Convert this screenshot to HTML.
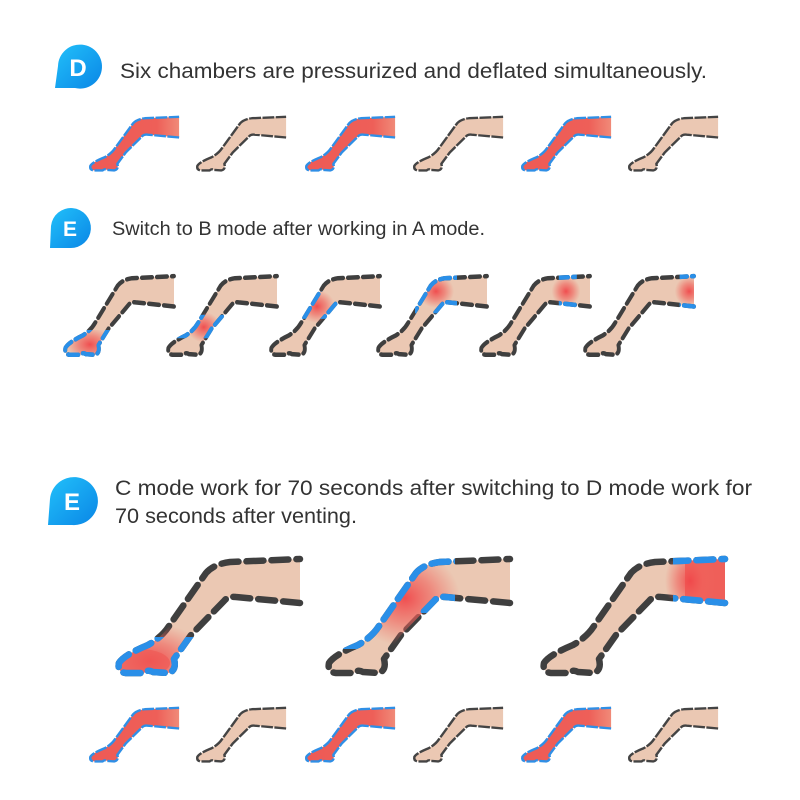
<!DOCTYPE html>
<html><head><meta charset="utf-8"><style>
html,body{margin:0;padding:0;background:#fff;}
svg{display:block;font-family:"Liberation Sans",sans-serif;}
</style></head><body>
<svg width="800" height="800" viewBox="0 0 800 800" xmlns="http://www.w3.org/2000/svg">
<defs>
<linearGradient id="bg" x1="0" y1="0" x2="1" y2="1"><stop offset="0" stop-color="#22c1fa"/><stop offset="1" stop-color="#0a86e6"/></linearGradient>
<linearGradient id="redfull" x1="0" y1="0" x2="1" y2="0"><stop offset="0" stop-color="#ee5a55"/><stop offset="0.75" stop-color="#ee5f58"/><stop offset="1" stop-color="#f08a78"/></linearGradient>
<radialGradient id="rg"><stop offset="0" stop-color="#f0474a" stop-opacity="0.95"/><stop offset="0.5" stop-color="#f0605a" stop-opacity="0.6"/><stop offset="1" stop-color="#f06a60" stop-opacity="0"/></radialGradient>
<path id="body" d="M190,6 L120,9 Q104,11 96,20 L59,73 Q52,84 38,92 Q14,102 9,110 Q7,119 16,120 L34,120 Q38,116 43,119 L58,120 Q67,118 64,106 L81,82 L114,48 Q118,43 126,44 L190,50 Z"/>
<path id="line" d="M190,50 L126,44 Q118,43 114,48 L81,82 L64,106 Q67,118 58,120 L43,119 Q38,116 34,120 L16,120 Q7,119 9,110 Q14,102 38,92 Q52,84 59,73 L96,20 Q104,11 120,9 L190,6"/>
<clipPath id="cbody"><use href="#body"/></clipPath>
<clipPath id="zfoot"><rect x="-10" y="84" width="100" height="50"/></clipPath>
<clipPath id="zankle"><polygon points="-10,62 110,62 110,96 -10,96"/></clipPath>
<clipPath id="zcalf"><polygon points="-10,28 120,28 120,68 -10,68"/></clipPath>
<clipPath id="zknee"><polygon points="70,-10 140,-10 140,60 70,60"/></clipPath>
<clipPath id="zthigh1"><rect x="138" y="-10" width="30" height="80"/></clipPath>
<clipPath id="zthigh2"><rect x="166" y="-10" width="40" height="80"/></clipPath>
<clipPath id="zcalfknee"><polygon points="-10,-10 135,-10 135,60 90,60 60,96 -10,96"/></clipPath>
<clipPath id="zthigh"><rect x="138" y="-10" width="70" height="80"/></clipPath>
<g id="sRed"><use href="#body" fill="url(#redfull)"/><use href="#line" fill="none" stroke="#2f8fe6" stroke-width="5" stroke-dasharray="24 3" stroke-linejoin="round"/></g>
<g id="sBeige"><use href="#body" fill="#ebc8b3"/><use href="#line" fill="none" stroke="#444" stroke-width="5" stroke-dasharray="24 3" stroke-linejoin="round"/></g>
<g id="base"><use href="#body" fill="#ebc8b3"/><use href="#line" fill="none" stroke="#3f3f3f" stroke-width="6.5" stroke-linecap="round" stroke-dasharray="17 8" stroke-linejoin="round"/></g>
<g id="blueL"><use href="#line" fill="none" stroke="#2a8fe8" stroke-width="6.5" stroke-linecap="round" stroke-dasharray="17 8" stroke-linejoin="round"/></g>
</defs>

<path d="M55,88 L58,66 A22,22 0 1 1 75,88 Z" fill="url(#bg)"/>
<text x="78" y="76" font-size="24" font-weight="bold" fill="#fff" text-anchor="middle">D</text>
<text x="120" y="78" font-size="21" fill="#333" textLength="587" lengthAdjust="spacingAndGlyphs">Six chambers are pressurized and deflated simultaneously.</text>

<g transform="translate(86,114) scale(0.49,0.47)"><use href="#sRed"/></g>
<g transform="translate(193,114) scale(0.49,0.47)"><use href="#sBeige"/></g>
<g transform="translate(302,114) scale(0.49,0.47)"><use href="#sRed"/></g>
<g transform="translate(410,114) scale(0.49,0.47)"><use href="#sBeige"/></g>
<g transform="translate(518,114) scale(0.49,0.47)"><use href="#sRed"/></g>
<g transform="translate(625,114) scale(0.49,0.47)"><use href="#sBeige"/></g>

<path d="M50,248 L51,226 A20,20 0 1 1 70,248 Z" fill="url(#bg)"/>
<text x="70" y="236" font-size="21" font-weight="bold" fill="#fff" text-anchor="middle">E</text>
<text x="112" y="235" font-size="19" fill="#333" textLength="373" lengthAdjust="spacingAndGlyphs">Switch to B mode after working in A mode.</text>

<g transform="translate(60,272) scale(0.6,0.69)">
 <use href="#base"/>
 <g clip-path="url(#cbody)"><g clip-path="url(#zfoot)"><ellipse cx="50" cy="105" rx="40" ry="25" fill="url(#rg)"/></g></g>
 <g clip-path="url(#zfoot)"><use href="#blueL"/></g>
</g>
<g transform="translate(163,272) scale(0.6,0.69)">
 <use href="#base"/>
 <g clip-path="url(#cbody)"><ellipse cx="68" cy="80" rx="28" ry="22" fill="url(#rg)"/></g>
 <g clip-path="url(#zankle)"><use href="#blueL"/></g>
</g>
<g transform="translate(266,272) scale(0.6,0.69)">
 <use href="#base"/>
 <g clip-path="url(#cbody)"><ellipse cx="85" cy="50" rx="30" ry="24" fill="url(#rg)"/></g>
 <g clip-path="url(#zcalf)"><use href="#blueL"/></g>
</g>
<g transform="translate(373,272) scale(0.6,0.69)">
 <use href="#base"/>
 <g clip-path="url(#cbody)"><ellipse cx="105" cy="28" rx="30" ry="24" fill="url(#rg)"/></g>
 <g clip-path="url(#zknee)"><use href="#blueL"/></g>
</g>
<g transform="translate(476,272) scale(0.6,0.69)">
 <use href="#base"/>
 <g clip-path="url(#cbody)"><ellipse cx="150" cy="28" rx="24" ry="22" fill="url(#rg)"/></g>
 <g clip-path="url(#zthigh1)"><use href="#blueL"/></g>
</g>
<g transform="translate(580,272) scale(0.6,0.69)">
 <use href="#base"/>
 <g clip-path="url(#cbody)"><ellipse cx="182" cy="28" rx="24" ry="22" fill="url(#rg)"/></g>
 <g clip-path="url(#zthigh2)"><use href="#blueL"/></g>
</g>

<path d="M48,525 L50,499 A24,24 0 1 1 72,525 Z" fill="url(#bg)"/>
<text x="72" y="510" font-size="24" font-weight="bold" fill="#fff" text-anchor="middle">E</text>
<text x="115" y="495" font-size="21" fill="#333" textLength="637" lengthAdjust="spacingAndGlyphs">C mode work for 70 seconds after switching to D mode work for</text>
<text x="115" y="523" font-size="21" fill="#333" textLength="242" lengthAdjust="spacingAndGlyphs">70 seconds after venting.</text>

<g transform="translate(110,553)">
 <use href="#base"/>
 <g clip-path="url(#cbody)"><ellipse cx="40" cy="108" rx="60" ry="38" fill="url(#rg)"/><ellipse cx="30" cy="110" rx="30" ry="14" fill="#f05a55" opacity="0.7"/></g>
 <g clip-path="url(#zfoot)"><use href="#blueL"/></g>
</g>
<g transform="translate(320,553)">
 <use href="#base"/>
 <g clip-path="url(#cbody)"><ellipse cx="85" cy="45" rx="55" ry="48" fill="url(#rg)"/></g>
 <g clip-path="url(#zcalfknee)"><use href="#blueL"/></g>
</g>
<g transform="translate(535,553)">
 <use href="#base"/>
 <g clip-path="url(#cbody)"><rect x="150" y="0" width="50" height="60" fill="#ef5f59"/><ellipse cx="155" cy="28" rx="25" ry="35" fill="url(#rg)"/></g>
 <g clip-path="url(#zthigh)"><use href="#blueL"/></g>
</g>

<g transform="translate(86,705) scale(0.49,0.47)"><use href="#sRed"/></g>
<g transform="translate(193,705) scale(0.49,0.47)"><use href="#sBeige"/></g>
<g transform="translate(302,705) scale(0.49,0.47)"><use href="#sRed"/></g>
<g transform="translate(410,705) scale(0.49,0.47)"><use href="#sBeige"/></g>
<g transform="translate(518,705) scale(0.49,0.47)"><use href="#sRed"/></g>
<g transform="translate(625,705) scale(0.49,0.47)"><use href="#sBeige"/></g>
</svg>
</body></html>
